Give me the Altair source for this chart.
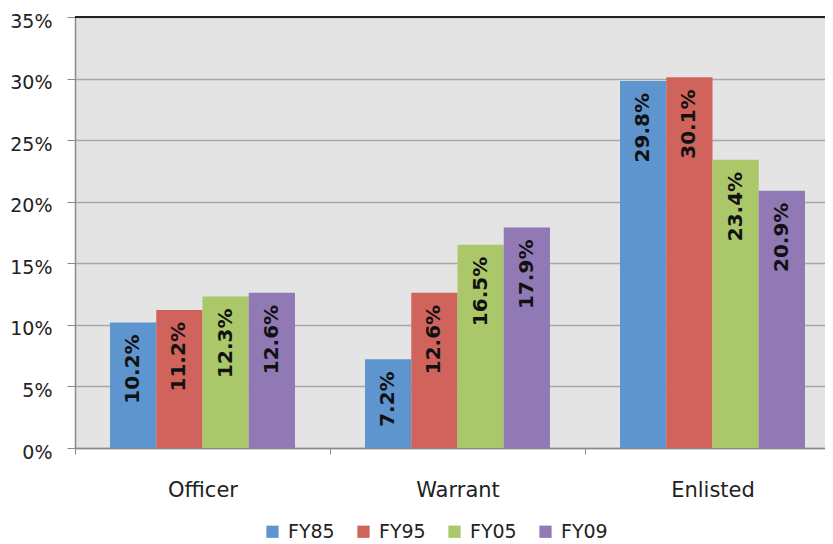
import altair as alt
import pandas as pd

categories = ["Officer", "Warrant", "Enlisted"]
years = ["FY85", "FY95", "FY05", "FY09"]
officer = [10.2, 11.2, 12.3, 12.6]
warrant = [7.2, 12.6, 16.5, 17.9]
enlisted = [29.8, 30.1, 23.4, 20.9]
colors = ["#5f95cf", "#d0645c", "#aac76a", "#9179b5"]
y_ticks = [0, 0.05, 0.10, 0.15, 0.20, 0.25, 0.30, 0.35]

rows = []
for cat, vals in zip(categories, [officer, warrant, enlisted]):
    for yr, v in zip(years, vals):
        rows.append({"group": cat, "year": yr, "value": v / 100, "label": f"{v:.1f}%"})
df = pd.DataFrame(rows)

FONT = "DejaVu Sans"

x_enc = alt.X(
    "group:N",
    sort=categories,
    scale=alt.Scale(range=[0, 765], paddingInner=0, paddingOuter=0),
    axis=alt.Axis(
        title=None, labelAngle=0, tickBand="extent", tickSize=6,
        tickColor="#8a8a8a", domainColor="#8a8a8a", domainWidth=1.5,
        labelFont=FONT, labelFontSize=21, labelColor="#222222",
        labelPadding=25,
    ),
)
xoff = alt.XOffset(
    "year:N", sort=years,
    scale=alt.Scale(paddingOuter=0.757, paddingInner=0),
)
y_enc = alt.Y(
    "value:Q",
    scale=alt.Scale(domain=[0, 0.35], nice=False),
    axis=alt.Axis(
        title=None, values=y_ticks, format=".0%", grid=True,
        gridColor="#a8a8a8", gridWidth=1.5, tickSize=8, tickColor="#8a8a8a",
        domainColor="#8a8a8a", domainWidth=1.5,
        labelFont=FONT, labelFontSize=19, labelColor="#222222",
        labelPadding=15, labelOffset=4,
    ),
)

base = alt.Chart(df)
bars = base.mark_bar().encode(
    x=x_enc,
    xOffset=xoff,
    y=y_enc,
    color=alt.Color(
        "year:N", sort=years, scale=alt.Scale(domain=years, range=colors),
        legend=alt.Legend(
            title=None, orient="none", direction="horizontal",
            legendX=188, legendY=505, symbolType="square", symbolSize=150,
            symbolStrokeWidth=0, labelFont=FONT, labelFontSize=19,
            labelColor="#222222", columnPadding=19, labelOffset=6,
        ),
    ),
)
texts = base.mark_text(
    angle=270, align="right", baseline="middle", dx=-12,
    fontWeight="bold", fontSize=20, font=FONT, color="#111111",
).encode(x=x_enc, xOffset=xoff, y=y_enc, text="label:N")

top_rule = alt.Chart(alt.Data(values=[{}])).mark_rule(color="#222222", strokeWidth=2).encode(
    x=alt.value(0), x2=alt.value(750), y=alt.value(0)
)

chart = alt.layer(bars, texts, top_rule).properties(
    width=750, height=431,
    autosize=alt.AutoSizeParams(type="none"),
    padding={"left": 67, "top": 9, "right": 0, "bottom": 96},
).configure_view(fill="#e4e4e4", stroke=None)

chart.save("out.html", embed_options={"renderer": "svg", "actions": False})
